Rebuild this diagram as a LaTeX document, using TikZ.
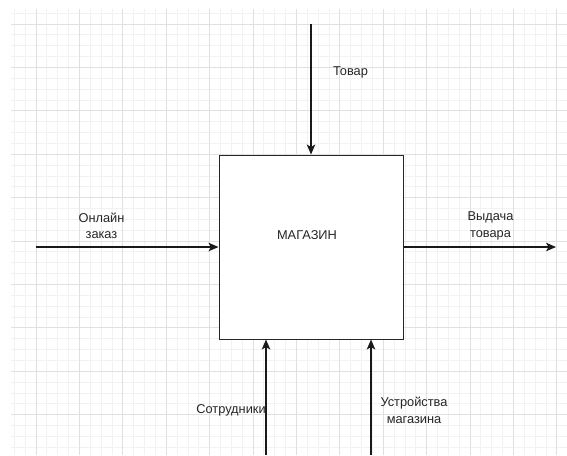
\documentclass[tikz,border=0pt]{standalone}
\usepackage{fontspec}
\setmainfont{Liberation Sans}
\usetikzlibrary{arrows.meta}
\begin{document}
\begin{tikzpicture}[x=1pt,y=-1pt,
  minorline/.style={draw=black!5, line width=0.8pt},
  majorline/.style={draw=black!12, line width=0.8pt},
  lbl/.style={font=\fontsize{12.8}{16.5}\selectfont, align=center, inner sep=0pt, text=black!85},
  flow/.style={draw=black!90, line width=1.2pt, -{Stealth[length=10pt,width=8.5pt,inset=2.5pt]}},
  boxstyle/.style={draw=black!85, fill=white, line width=1pt, minimum width=184pt, minimum height=184pt, inner sep=0pt}]
\useasboundingbox (0,0) rectangle (567,455);
\fill[white] (0,0) rectangle (567,455);
\begin{scope}
\clip (11,9) rectangle (567,455);
\foreach \i in {-3,...,49} \draw[minorline] ({36+\i*10.85},9) -- ({36+\i*10.85},455);
\foreach \j in {-2,...,41} \draw[minorline] (11,{24+\j*10.85}) -- (567,{24+\j*10.85});
\foreach \i in {0,...,12} \draw[majorline] ({36+\i*43.4},9) -- ({36+\i*43.4},455);
\foreach \j in {0,...,10} \draw[majorline] (11,{24+\j*43.4}) -- (567,{24+\j*43.4});
\end{scope}
\node[boxstyle] (shop) at (311,247) {};
\node[lbl] (title) at (307,235) {МАГАЗИН};
\coordinate (inend) at (36,247);
\coordinate (outend) at (556,247);
\coordinate (ctlend) at (311,24);
\coordinate (mecha) at (266,455);
\coordinate (mechb) at (371,455);
\draw[flow] (inend) -- (shop.west);
\draw[flow] (shop.east) -- (outend);
\draw[flow] (ctlend) -- (shop.north);
\draw[flow] (mecha) -- (mecha |- shop.south);
\draw[flow] (mechb) -- (mechb |- shop.south);
\node[lbl] (tovar) at (350.5,72) {Товар};
\node[lbl] (online) at (101.5,226) {Онлайн\\заказ};
\node[lbl] (vydacha) at (490.5,226) {Выдача\\товара};
\node[lbl] (staff) at (231,410) {Сотрудники};
\node[lbl] (devices) at (414,410.5) {Устройства\\магазина};
\end{tikzpicture}
\end{document}
